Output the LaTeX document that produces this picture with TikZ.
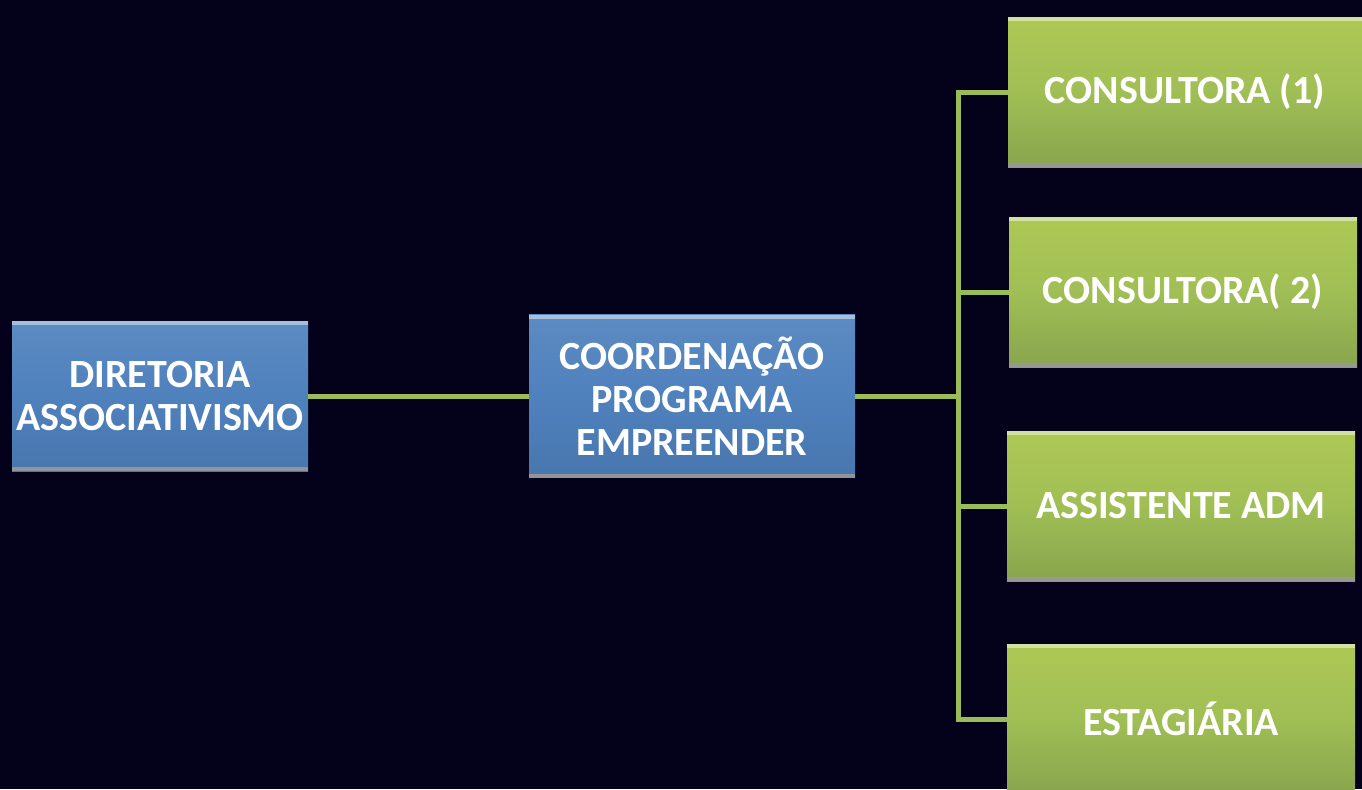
\documentclass[tikz,border=0pt]{standalone}
\usepackage{fontspec}
\setmainfont{Carlito}
\usetikzlibrary{positioning}
\definecolor{bgnavy}{HTML}{03021A}
\definecolor{boxblue}{HTML}{4F81BD}
\definecolor{boxgreen}{HTML}{9BBB59}

\tikzset{
  bevel/.style={path picture={
    \fill[white, opacity=0.45] (path picture bounding box.north west) rectangle ([yshift=-2pt]path picture bounding box.north east);
    \fill[gray!80, opacity=0.9] (path picture bounding box.south west) rectangle ([yshift=2pt]path picture bounding box.south east);}},
  orgbox/.style={rectangle, bevel, text=white, align=center, inner sep=0pt,
    font=\bfseries\fontsize{20}{21.5}\selectfont},
  bluebox/.style={orgbox, top color=boxblue!92!white, bottom color=boxblue!92!black, middle color=boxblue},
  greenbox/.style={orgbox, top color=boxgreen!85!yellow!95!white, bottom color=boxgreen!88!black,
    middle color=boxgreen!95!yellow, minimum width=174pt, minimum height=75pt},
  link/.style={draw=boxgreen, line width=2.5pt}
}

\begin{document}
\begin{tikzpicture}[x=0.5pt, y=-0.5pt]

  \fill[bgnavy] (0,0) rectangle (1362,789);
  \useasboundingbox (0,0) rectangle (1362,789);

  % left part
  \node [bluebox, minimum width=148pt, minimum height=75pt] (dir) at (160,396) {DIRETORIA\\ASSOCIATIVISMO};
  \node [bluebox, minimum width=163pt, minimum height=81.5pt] (coord) at (692,396) {COORDENAÇÃO\\PROGRAMA\\EMPREENDER};
  \coordinate (hub) at (958,396);

  % team
  \node [greenbox, minimum width=177pt] (cons1) at (1185,92) {CONSULTORA (1)};
  \node [greenbox] (cons2) at (1183,292) {CONSULTORA( 2)};
  \node [greenbox] (assist) at (1181,506) {ASSISTENTE ADM};
  \node [greenbox] (estag) at (1181,719) {ESTAGIÁRIA};

  \draw [link] (dir) -- (coord);
  \draw [link] (coord) -- (hub);
  \draw [link] (hub) |- (cons1);
  \draw [link] (hub) |- (cons2);
  \draw [link] (hub) |- (assist);
  \draw [link] (hub) |- (estag);
\end{tikzpicture}
\end{document}
